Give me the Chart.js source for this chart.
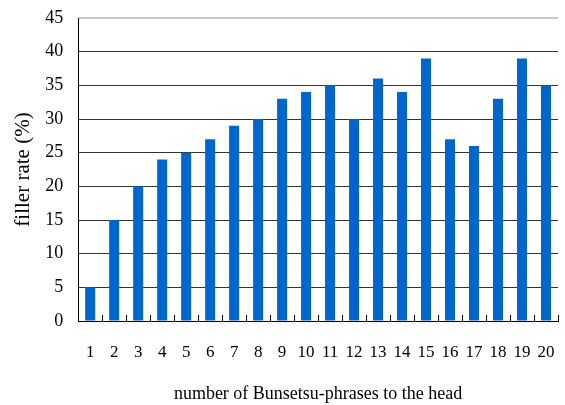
<!DOCTYPE html>
<html>
<head>
<meta charset="utf-8">
<script src="https://cdn.jsdelivr.net/npm/chart.js@4"></script>
<style>
  html, body { margin: 0; padding: 0; background: #fff; overflow: hidden; }
  #wrap { width: 565px; height: 405px; }
</style>
</head>
<body>
<div id="wrap"><canvas id="c"></canvas></div>
<script>
const categories = ['1','2','3','4','5','6','7','8','9','10','11','12','13','14','15','16','17','18','19','20'];
const fillerRate = [5, 15, 20, 24, 25, 27, 29, 30, 33, 34, 35, 30, 36, 34, 39, 27, 26, 33, 39, 35];
const yMin = 0, yMax = 45, yStep = 5;
const xTitle = 'number of Bunsetsu-phrases to the head';
const yTitle = 'filler rate (%)';

const innerTicks = {
  id: 'innerTicks',
  afterDatasetsDraw(chart) {
    const xs = chart.scales.x, ys = chart.scales.y;
    const ctx = chart.ctx;
    const n = categories.length;
    const step = xs.width / n;
    const base = ys.getPixelForValue(yMin);
    ctx.save();
    ctx.strokeStyle = '#000';
    ctx.lineWidth = 1;
    ctx.beginPath();
    for (let i = 0; i < n; i++) {
      const px = Math.round(xs.getPixelForValue(i) + step / 2) + 0.5;
      ctx.moveTo(px, base);
      ctx.lineTo(px, base - 6);
    }
    ctx.stroke();
    ctx.restore();
  }
};

new Chart(document.getElementById('c'), {
  type: 'bar',
  data: {
    labels: categories,
    datasets: [{
      data: fillerRate,
      backgroundColor: '#0066CC',
      borderWidth: 0,
      barPercentage: 0.42,
      categoryPercentage: 1.0
    }]
  },
  options: {
    responsive: true,
    maintainAspectRatio: false,
    animation: false,
    devicePixelRatio: 1,
    layout: { padding: { top: 18, right: 7, left: 11, bottom: 0 } },
    plugins: { legend: { display: false }, tooltip: { enabled: false } },
    scales: {
      x: {
        grid: { display: true, drawOnChartArea: false, drawTicks: true, tickLength: 21, tickColor: 'rgba(0,0,0,0)' },
        border: { display: true, color: '#000', width: 1 },
        ticks: { color: '#000', font: { family: 'Liberation Serif', size: 17 }, padding: 0, maxRotation: 0, autoSkip: false },
        title: { display: true, text: xTitle, color: '#000', font: { family: 'Liberation Serif', size: 18 }, padding: { top: 21, bottom: 0 } }
      },
      y: {
        min: yMin, max: yMax,
        grid: {
          drawTicks: true, tickLength: 15, tickColor: 'rgba(0,0,0,0)',
          color: (c) => (c.tick && c.tick.value === yMax) ? '#c8c8c8' : '#333',
          lineWidth: (c) => (c.tick && c.tick.value === yMax) ? 2 : 1
        },
        border: { display: true, color: '#000', width: 1 },
        ticks: { stepSize: yStep, color: '#000', font: { family: 'Liberation Serif', size: 18 }, padding: 0 },
        title: { display: true, text: yTitle, color: '#000', font: { family: 'Liberation Serif', size: 21 }, padding: { top: 0, bottom: 9 } }
      }
    }
  },
  plugins: [innerTicks]
});
</script>
</body>
</html>
